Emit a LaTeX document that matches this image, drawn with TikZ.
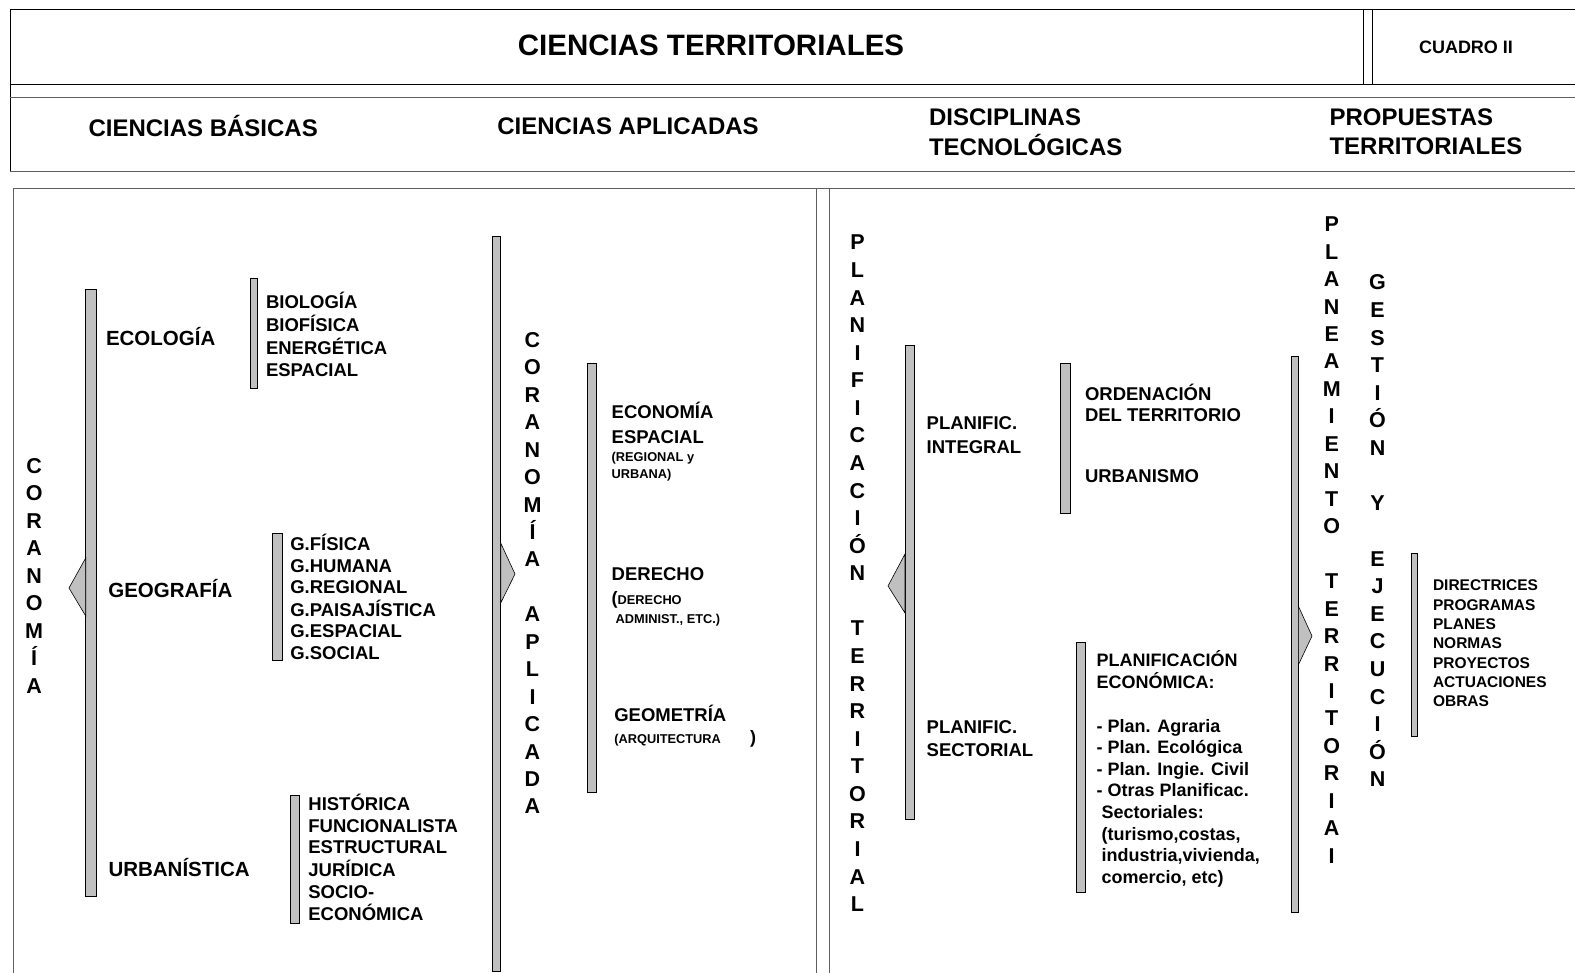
\documentclass[tikz,border=0pt]{standalone}
\usepackage{fontspec}
\setmainfont{Liberation Sans}
\definecolor{barfill}{RGB}{192,192,192}
\definecolor{frameln}{RGB}{95,95,95}
\newcommand{\fs}[2]{\fontsize{#1}{#2}\selectfont\bfseries}
\newcommand{\lst}[1]{\begin{tabular}[t]{@{}l@{}}#1\end{tabular}}
\newcommand{\vword}[5]{% name, x, first baseline, step, letters
  \foreach \letr [count=\i from 0] in {#5} {\node[vletter] (#1\i) at (#2,{#3+\i*#4}) {\letr};}}
\begin{document}
\begin{tikzpicture}[x=1pt,y=-1pt,
  bar/.style={draw=black,line width=0.8pt,fill=barfill},
  tri/.style={draw=black,line width=0.6pt,fill=barfill},
  txt/.style={anchor=base west,inner sep=0pt,outer sep=0pt},
  ctxt/.style={anchor=base,inner sep=0pt,outer sep=0pt},
  vletter/.style={anchor=base,inner sep=0pt,outer sep=0pt,font=\fs{21.5}{21.5}},
  hdr/.style={draw=black,line width=1pt},
  hdrg/.style={draw=frameln,line width=1.5pt},
  frm/.style={draw=frameln,line width=1.3pt}]
\useasboundingbox (0,0) rectangle (1575,973);
\clip (0,0) rectangle (1575,973);
% ---------- header ----------
\draw[hdr] (1590,9.5) -- (10.2,9.5) -- (10.2,171.7);
\draw[hdr] (10.2,84.3) -- (1590,84.3);
\draw[hdrg] (10.2,97.3) -- (1590,97.3);
\draw[hdrg] (10.2,171.7) -- (1590,171.7);
\draw[hdr,line width=0.8pt] (1363.5,9.5) rectangle (1372.5,84.3);
\node[ctxt,font=\fs{29.5}{29.5}] (title) at (711,56) {CIENCIAS TERRITORIALES};
\node[ctxt,font=\fs{18}{18}] (cuadro) at (1466,53.5) {CUADRO II};
\node[txt,font=\fs{24}{29}] (cbas) at (88.5,137) {CIENCIAS BÁSICAS};
\node[txt,font=\fs{24}{29}] (capl) at (497.4,135) {CIENCIAS APLICADAS};
\node[txt,font=\fs{24}{29}] (dtec) at (929,125.5) {\lst{DISCIPLINAS\\TECNOLÓGICAS}};
\node[txt,font=\fs{24}{29}] (pter) at (1329.5,125.5) {\lst{PROPUESTAS\\TERRITORIALES}};
% ---------- body frame ----------
\draw[frm] (13.3,990) -- (13.3,188.3) -- (1590,188.3);
\draw[frm] (816.7,188.3) -- (816.7,990);
\draw[frm] (829.7,188.3) -- (829.7,990);
% ---------- left panel ----------
\vword{cor}{34.2}{473.3}{27.5}{C,O,R,A,N,O,M,Í,A}
\draw[bar] (85.7,289) rectangle (96,896.7);
\draw[tri] (85.7,558) -- (69,588) -- (85.7,616) -- cycle;
\node[txt,font=\fs{20.5}{24}] (eco) at (106,346) {ECOLOGÍA};
\node[txt,font=\fs{20.5}{24}] (geo) at (108.3,597.7) {GEOGRAFÍA};
\node[txt,font=\fs{20.5}{24}] (urb) at (108.5,876) {URBANÍSTICA};
\draw[bar] (250,278) rectangle (257.7,388);
\node[txt,font=\fs{18.5}{21.8}] (ecolist) at (266,308.6) {\lst{BIOLOGÍA\\BIOFÍSICA\\ENERGÉTICA\\ESPACIAL}};
\draw[bar] (272.7,533) rectangle (282.3,660);
\node[txt,font=\fs{18.5}{21.5}] (geolist) at (290.3,550.6) {\lst{G.FÍSICA\\G.HUMANA\\G.REGIONAL\\G.PAISAJÍSTICA\\G.ESPACIAL\\G.SOCIAL}};
\draw[bar] (290,795.3) rectangle (299.6,923.3);
\node[txt,font=\fs{18.5}{21.5}] (urblist) at (308.4,810.7) {\lst{HISTÓRICA\\FUNCIONALISTA\\ESTRUCTURAL\\JURÍDICA\\SOCIO-\\ECONÓMICA}};
\draw[bar] (492,236) rectangle (500.7,971);
\draw[tri] (500.7,543) -- (515,574) -- (500.7,603) -- cycle;
\vword{cap}{532.5}{347.3}{27.45}{C,O,R,A,N,O,M,Í,A,{},A,P,L,I,C,A,D,A}
\draw[bar] (587.7,363) rectangle (596.7,792.7);
\node[txt,font=\fs{18.5}{25}] (econ) at (611.7,418.3) {\lst{ECONOMÍA\\ESPACIAL}};
\node[txt,font=\fs{12.8}{16.6}] (regur) at (611.7,461.7) {\lst{(REGIONAL y\\URBANA)}};
\node[txt,font=\fs{18.5}{25}] (der) at (611.7,580.7) {DERECHO};
\node[txt,font=\fs{12.8}{16}] (der2) at (611.7,604) {{\fontsize{18}{18}\selectfont(}DERECHO};
\node[txt,font=\fs{12.8}{16}] (adm) at (615.7,623.3) {ADMINIST., ETC.)};
\node[txt,font=\fs{18.5}{25}] (geom) at (614.3,721.7) {GEOMETRÍA};
\node[txt,font=\fs{12.8}{16}] (arq) at (614.3,743.3) {(ARQUITECTURA};
\node[txt,font=\fs{18}{18}] (arqp) at (750,743.3) {)};
% ---------- right panel ----------
\vword{pla}{857.5}{250}{27.57}{P,L,A,N,I,F,I,C,A,C,I,Ó,N,{},T,E,R,R,I,T,O,R,I,A,L}
\draw[bar] (905,345.7) rectangle (914.3,819);
\draw[tri] (905,554) -- (888,586) -- (905,613) -- cycle;
\node[txt,font=\fs{18.5}{24}] (pint) at (926.7,429.3) {\lst{PLANIFIC.\\INTEGRAL}};
\node[txt,font=\fs{18.5}{23.4}] (psec) at (926.7,733.3) {\lst{PLANIFIC.\\SECTORIAL}};
\draw[bar] (1060.7,363) rectangle (1070,513);
\node[txt,font=\fs{18.5}{21}] (orden) at (1085,400.7) {\lst{ORDENACIÓN\\DEL TERRITORIO}};
\node[txt,font=\fs{18.5}{21}] (urbanismo) at (1085,482.7) {URBANISMO};
\draw[bar] (1076.7,642.7) rectangle (1085,892.3);
\node[txt,font=\fs{18}{21.6}] (pecon) at (1096.7,666.5) {\lst{PLANIFICACIÓN\\ECONÓMICA:\\ \\- Plan. Agraria\\- Plan. Ecológica\\- Plan. Ingie. Civil\\- Otras Planificac.\\\hspace{5pt}Sectoriales:\\\hspace{5pt}(turismo,costas,\\\hspace{5pt}industria,vivienda,\\\hspace{5pt}comercio, etc)}};
\vword{pt}{1331.7}{231.7}{27.46}{P,L,A,N,E,A,M,I,E,N,T,O,{},T,E,R,R,I,T,O,R,I,A,I}
\draw[bar] (1291.7,356.7) rectangle (1298.3,912.7);
\draw[tri] (1298.3,606) -- (1312,636) -- (1298.3,665) -- cycle;
\vword{ge}{1377.5}{290}{27.6}{G,E,S,T,I,Ó,N,{},Y,{},E,J,E,C,U,C,I,Ó,N}
\draw[bar] (1411.7,553) rectangle (1417.3,736);
\node[txt,font=\fs{15.5}{19.33}] (props) at (1433,590.7) {\lst{DIRECTRICES\\PROGRAMAS\\PLANES\\NORMAS\\PROYECTOS\\ACTUACIONES\\OBRAS}};
\end{tikzpicture}
\end{document}
